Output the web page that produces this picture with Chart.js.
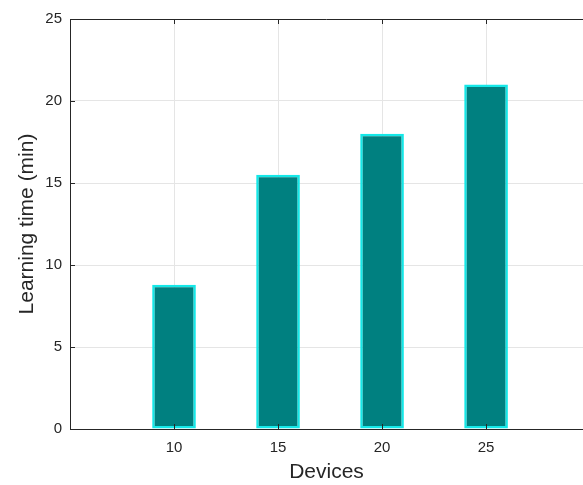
<!DOCTYPE html>
<html>
<head>
<meta charset="utf-8">
<script src="https://cdn.jsdelivr.net/npm/chart.js@4"></script>
<style>
  html, body { margin: 0; padding: 0; background: #fff; }
  #wrap { width: 583px; height: 485px; }
</style>
</head>
<body>
<div id="wrap"><canvas id="barChart" width="583" height="485"></canvas></div>
<script>
// Dados do gráfico
const devices = [10, 15, 20, 25];
const learningTime = [8.8, 15.5, 18.0, 21.0];
const xTicks = [10, 15, 20, 25];
const yTicks = [0, 5, 10, 15, 20, 25];

const axisColor = '#262626';
const gridColor = '#e5e5e5';
const fontFamily = 'Liberation Sans, Arial, sans-serif';

// Moldura superior e marcas de escala para dentro (estilo MATLAB)
const frameInside = {
    id: 'frameInside',
    afterDraw(chart) {
        const { ctx, chartArea, scales } = chart;
        ctx.save();
        ctx.strokeStyle = axisColor;
        ctx.lineWidth = 1;
        ctx.beginPath();
        ctx.moveTo(chartArea.left, chartArea.top + 0.5);
        ctx.lineTo(chartArea.right, chartArea.top + 0.5);
        scales.x.ticks.forEach(t => {
            const px = Math.round(scales.x.getPixelForValue(t.value)) + 0.5;
            ctx.moveTo(px, chartArea.bottom);
            ctx.lineTo(px, chartArea.bottom - 5);
            ctx.moveTo(px, chartArea.top);
            ctx.lineTo(px, chartArea.top + 5);
        });
        scales.y.ticks.forEach(t => {
            const py = Math.round(scales.y.getPixelForValue(t.value)) + 0.5;
            ctx.moveTo(chartArea.left, py);
            ctx.lineTo(chartArea.left + 5, py);
        });
        ctx.stroke();
        ctx.restore();
    }
};

const ctx = document.getElementById('barChart').getContext('2d');
new Chart(ctx, {
    type: 'bar',
    data: {
        datasets: [{
            data: devices.map((d, i) => ({ x: d, y: learningTime[i] })),
            backgroundColor: '#008080',
            borderColor: '#14e8e8',
            borderWidth: 2.5,
            borderSkipped: false,
            categoryPercentage: 1,
            barPercentage: 0.42
        }]
    },
    options: {
        responsive: false,
        animation: false,
        layout: { padding: { top: 19, right: 0, left: 0, bottom: 0 } },
        plugins: { legend: { display: false }, tooltip: { enabled: false } },
        scales: {
            x: {
                type: 'linear',
                offset: false,
                min: 5,
                max: 29.66,
                afterBuildTicks: scale => { scale.ticks = xTicks.map(v => ({ value: v })); },
                afterFit: scale => { scale.height = 56; },
                grid: { color: gridColor, drawTicks: false, offset: false },
                border: { color: axisColor, width: 1 },
                ticks: {
                    color: axisColor,
                    padding: 10,
                    font: { family: fontFamily, size: 15 }
                },
                title: {
                    display: true,
                    text: 'Devices',
                    color: axisColor,
                    padding: { top: 0, bottom: 0 },
                    font: { family: fontFamily, size: 21 }
                }
            },
            y: {
                min: 0,
                max: 25,
                afterBuildTicks: scale => { scale.ticks = yTicks.map(v => ({ value: v })); },
                afterFit: scale => { scale.width = 70; },
                grid: { color: gridColor, drawTicks: false },
                border: { color: axisColor, width: 1 },
                ticks: {
                    color: axisColor,
                    padding: 8,
                    font: { family: fontFamily, size: 15 }
                },
                title: {
                    display: true,
                    text: 'Learning time (min)',
                    color: axisColor,
                    padding: { top: 15, bottom: 0 },
                    font: { family: fontFamily, size: 21 }
                }
            }
        }
    },
    plugins: [frameInside]
});
</script>
</body>
</html>
